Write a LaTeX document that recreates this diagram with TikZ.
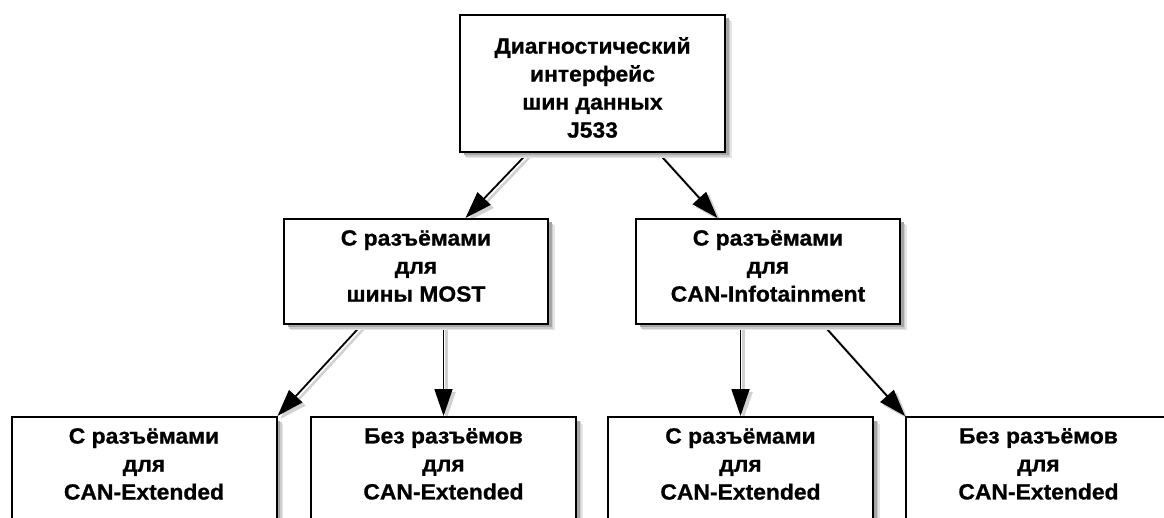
\documentclass[tikz,border=0pt]{standalone}
\usepackage{fontspec}
\setmainfont{Liberation Sans}
\newfontfamily\lblfont{Liberation Sans}[FakeStretch=1.04, BoldFeatures={FakeBold=0.8}]
\usetikzlibrary{arrows.meta,calc,shadows}
\pgfdeclarelayer{bg}
\pgfsetlayers{bg,main}
\tikzset{
 box/.style={draw=black, line width=2pt, fill=white, rectangle, inner sep=0pt,
   drop shadow={shadow xshift=6.5pt, shadow yshift=-6.5pt, fill=black!10, opacity=1},
   drop shadow={shadow xshift=5pt, shadow yshift=-5pt, fill=black!20, opacity=1},
   drop shadow={shadow xshift=3.5pt, shadow yshift=-3.5pt, fill=black!35, opacity=1}},
 wbox/.style={box, minimum width=265pt, minimum height=137pt},
 mbox/.style={box, minimum width=264pt, minimum height=105pt},
 bbox/.style={box, minimum width=265pt, minimum height=140pt},
 lbl/.style={font=\lblfont\bfseries\fontsize{22}{28}\selectfont, align=center, inner sep=0pt, anchor=north},
 arr/.style={line width=1.8pt, -{Triangle[length=27pt,width=18pt]},
   preaction={draw=black!18, line width=2.5pt, -{Triangle[length=27pt,width=18pt]}, transform canvas={xshift=3pt,yshift=-3pt}}},
}
\begin{document}
\begin{tikzpicture}[x=1pt,y=-1pt]
\begin{pgfonlayer}{bg}
\fill[white] (0,0) rectangle (1164,518);
\end{pgfonlayer}
\useasboundingbox (0,0) rectangle (1164,518);
% boxes
\node[wbox] (top) at (592.5,83.5) {};
\node[mbox] (ml) at (416,271.5) {};
\node[mbox] (mr) at (768,271.5) {};
\node[bbox] (b1) at (144,487) {};
\node[bbox] (b2) at (443.5,487) {};
\node[bbox] (b3) at (740.5,487) {};
\node[bbox] (b4) at (1038.5,487) {};
% labels
\node[lbl] (ttop) at ($(top.north)+(0,23)$) {Диагностический\\интерфейс\\шин данных\\J533};
\node[lbl] (tml) at ($(ml.north)+(0,12)$) {С разъёмами\\для\\шины MOST};
\node[lbl] (tmr) at ($(mr.north)+(0,12)$) {С разъёмами\\для\\CAN-Infotainment};
\node[lbl] (tb1) at ($(b1.north)+(0,12)$) {С разъёмами\\для\\CAN-Extended};
\node[lbl] (tb2) at ($(b2.north)+(0,12)$) {Без разъёмов\\для\\CAN-Extended};
\node[lbl] (tb3) at ($(b3.north)+(0,12)$) {С разъёмами\\для\\CAN-Extended};
\node[lbl] (tb4) at ($(b4.north)+(0,12)$) {Без разъёмов\\для\\CAN-Extended};
% connectors
\begin{pgfonlayer}{bg}
\draw[arr] ($(top.south west)!0.257!(top.south east)$) -- ($(ml.north west)!0.686!(ml.north east)$);
\draw[arr] ($(top.south west)!0.747!(top.south east)$) -- ($(mr.north west)!0.31!(mr.north east)$);
\draw[arr] ($(ml.south west)!0.295!(ml.south east)$) -- (b1.north east);
\draw[arr] (ml.south -| b2.north) -- (b2.north);
\draw[arr] (mr.south -| b3.north) -- (b3.north);
\draw[arr] ($(mr.south west)!0.708!(mr.south east)$) -- (b4.north west);
\end{pgfonlayer}
\end{tikzpicture}
\end{document}
